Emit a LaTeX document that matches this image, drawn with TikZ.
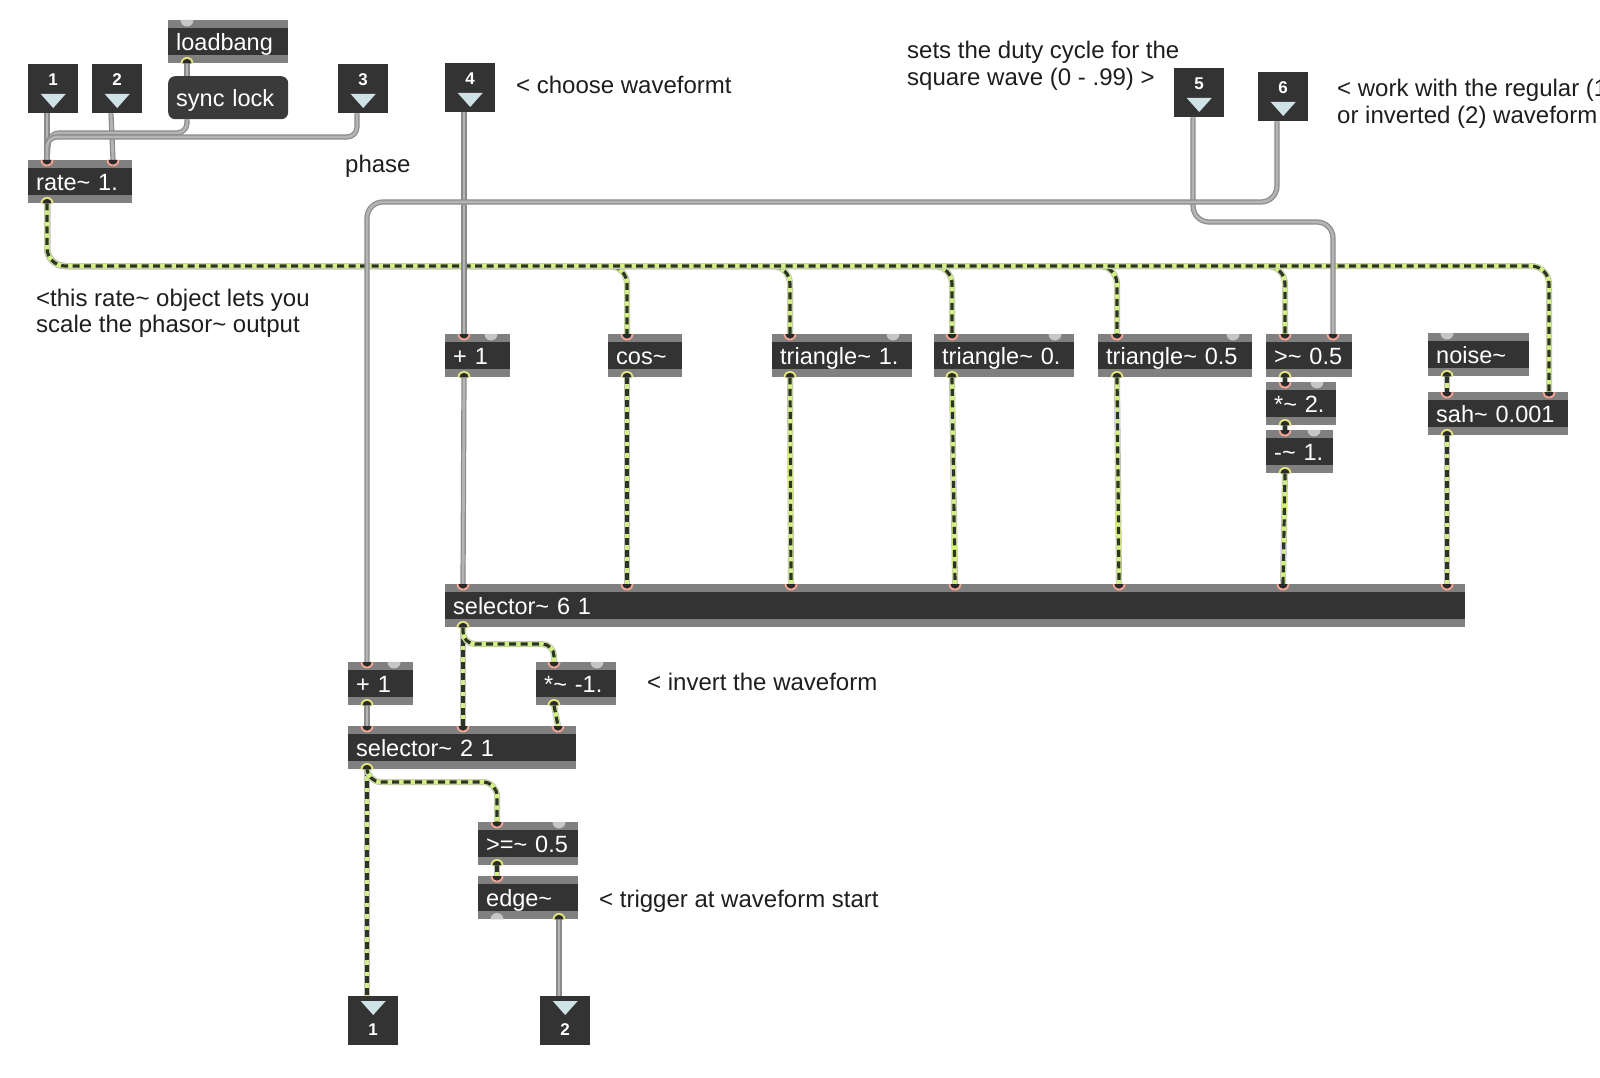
\documentclass[tikz,border=0pt]{standalone}
\usepackage{fontspec}
\setmainfont{Liberation Sans}
\usetikzlibrary{calc}

\definecolor{objgray}{HTML}{808080}
\definecolor{objdark}{HTML}{333333}
\definecolor{msgdark}{HTML}{3A3A3A}
\definecolor{inring}{HTML}{F2A592}
\definecolor{outring}{HTML}{E2E47A}
\definecolor{portdark}{HTML}{2A2A2A}
\definecolor{idleport}{HTML}{C6C6C6}
\definecolor{tricol}{HTML}{CFE2E5}
\definecolor{ctledge}{HTML}{8A8A8A}
\definecolor{ctlcore}{HTML}{B4B4B4}
\definecolor{sigedge}{HTML}{BDBDBD}
\definecolor{siggreen}{HTML}{D4F085}
\definecolor{sigdark}{HTML}{2C3427}
\definecolor{cmttext}{HTML}{1E1E1E}

\pgfdeclarelayer{bg}
\pgfdeclarelayer{cords}
\pgfsetlayers{bg,cords,main}

\tikzset{
  objbox/.style={fill=objgray, anchor=north west, minimum height=43pt, inner xsep=8pt, inner ysep=0pt,
    text=white, text height=19pt, text depth=2pt, align=left, font=\fontsize{23.5}{26}\selectfont,
    path picture={\fill[objdark] ($(path picture bounding box.north west)+(0,8)$) rectangle ($(path picture bounding box.south east)+(0,-8)$);}},
  msgbox/.style={objbox, fill=msgdark, rounded corners=7pt, path picture={}},
  iobox/.style={fill=objdark, anchor=north west, minimum width=50pt, minimum height=49pt, inner sep=0pt},
  ionum/.style={text=white, inner sep=0pt, font=\fontsize{17}{17}\selectfont\bfseries},
  cmt/.style={anchor=base west, inner sep=0pt, text=cmttext, align=left, font=\fontsize{24}{26.5}\selectfont},
  ctl/.style={draw=ctledge, line width=5.2pt, postaction={draw=ctlcore, line width=2.8pt}},
  sig/.style={draw=sigedge, line width=6pt, postaction={draw=siggreen, line width=4.6pt},
    postaction={draw=sigdark, line width=3.2pt, dash pattern=on 7pt off 4.5pt}},
}

\newcommand\tld{\textasciitilde}
% object box: name, x, y, width, text
\newcommand\obj[5]{\pgfmathsetmacro\tw{#4-16}\node[objbox, text width=\tw pt] (#1) at (#2,#3) {#5};}
\newcommand\maxmsg[5]{\pgfmathsetmacro\tw{#4-16}\node[msgbox, text width=\tw pt] (#1) at (#2,#3) {#5};}
% ports: node, offset, port name
\newcommand\inp[3]{\coordinate (#1-#3) at ($(#1.north west)+(#2,0)$);
  \fill[inring] (#1-#3) ++(6.5,0) arc (0:180:6.5) -- cycle;
  \fill[portdark] (#1-#3) ++(4.6,0) arc (0:180:4.6) -- cycle;}
\newcommand\outp[3]{\coordinate (#1-#3) at ($(#1.south west)+(#2,0)$);
  \fill[outring] (#1-#3) ++(6.5,0) arc (0:-180:6.5) -- cycle;
  \fill[portdark] (#1-#3) ++(4.6,0) arc (0:-180:4.6) -- cycle;}
\newcommand\idlein[2]{\fill[idleport] ($(#1.north west)+(#2,0)$) ++(6.5,0) arc (0:180:6.5) -- cycle;}
\newcommand\idleout[2]{\fill[idleport] ($(#1.south west)+(#2,0)$) ++(6.5,0) arc (0:-180:6.5) -- cycle;}
% patcher inlets and outlets: name, x, y, number
\newcommand\maxin[4]{\node[iobox] (#1) at (#2,#3) {};
  \node[ionum] (#1-n) at ($(#1.north)+(0,16)$) {#4};
  \fill[tricol] ($(#1.north)+(-12.5,30)$) -- ++(25,0) -- ++(-12.5,14) -- cycle;
  \coordinate (#1-o) at ($(#1.south west)+(19,0)$);}
\newcommand\maxout[4]{\node[iobox] (#1) at (#2,#3) {};
  \fill[tricol] ($(#1.north)+(-12.5,5)$) -- ++(25,0) -- ++(-12.5,14) -- cycle;
  \node[ionum] (#1-n) at ($(#1.north)+(0,34)$) {#4};
  \coordinate (#1-i) at ($(#1.north west)+(19,0)$);}

\begin{document}
\begin{tikzpicture}[x=1pt, y=-1pt]
\useasboundingbox (0,0) rectangle (1600,1078);
\begin{pgfonlayer}{bg}\fill[white] (0,0) rectangle (1600,1078);\end{pgfonlayer}

% inlets / outlets of the patcher
\maxin{in1}{28}{64}{1}
\maxin{in2}{92}{64}{2}
\maxin{in3}{338}{64}{3}
\maxin{in4}{445}{63}{4}
\maxin{in5}{1174}{68}{5}
\maxin{in6}{1258}{72}{6}
\maxout{out1}{348}{996}{1}
\maxout{out2}{540}{996}{2}

% objects
\obj{lb}{168}{20}{120}{loadbang}
\maxmsg{sync}{168}{76}{120}{sync lock}
\obj{rate}{28}{160}{104}{rate\tld{} 1.}
\obj{plus}{445}{334}{65}{+ 1}
\obj{cos}{608}{334}{74}{cos\tld}
\obj{triA}{772}{334}{140}{triangle\tld{} 1.}
\obj{triB}{934}{334}{140}{triangle\tld{} 0.}
\obj{triC}{1098}{334}{154}{triangle\tld{} 0.5}
\obj{gt}{1266}{334}{86}{>\tld{} 0.5}
\obj{mul}{1266}{382}{70}{*\tld{} 2.}
\obj{sub}{1266}{430}{67}{-\tld{} 1.}
\obj{noise}{1428}{333}{101}{noise\tld}
\obj{sah}{1428}{392}{140}{sah\tld{} 0.001}
\obj{sel6}{445}{584}{1020}{selector\tld{} 6 1}
\obj{plusB}{348}{662}{65}{+ 1}
\obj{neg}{536}{662}{80}{*\tld{} -1.}
\obj{sel2}{348}{726}{228}{selector\tld{} 2 1}
\obj{gte}{478}{822}{100}{>=\tld{} 0.5}
\obj{edge}{478}{876}{100}{edge\tld}

% ports
\idlein{lb}{19} \outp{lb}{19}{o1}
\inp{rate}{19}{i1} \inp{rate}{85}{i2} \outp{rate}{19}{o1}
\inp{plus}{19}{i1} \idlein{plus}{46} \outp{plus}{19}{o1}
\inp{cos}{19}{i1} \outp{cos}{19}{o1}
\foreach \n in {triA,triB} {\inp{\n}{18}{i1} \idlein{\n}{121} \outp{\n}{18}{o1}}
\inp{triC}{19}{i1} \idlein{triC}{135} \outp{triC}{19}{o1}
\inp{gt}{19}{i1} \inp{gt}{67}{i2} \outp{gt}{19}{o1}
\inp{mul}{19}{i1} \idlein{mul}{51} \outp{mul}{19}{o1}
\inp{sub}{19}{i1} \idlein{sub}{48} \outp{sub}{19}{o1}
\idlein{noise}{19} \outp{noise}{19}{o1}
\inp{sah}{19}{i1} \inp{sah}{121}{i2} \outp{sah}{19}{o1}
\foreach \k in {1,...,7} {\pgfmathsetmacro\dx{18+164*(\k-1)} \inp{sel6}{\dx}{i\k}}
\outp{sel6}{18}{o1}
\inp{plusB}{19}{i1} \idlein{plusB}{46} \outp{plusB}{19}{o1}
\inp{neg}{18}{i1} \idlein{neg}{61} \outp{neg}{18}{o1}
\inp{sel2}{19}{i1} \inp{sel2}{115}{i2} \inp{sel2}{210}{i3} \outp{sel2}{19}{o1}
\inp{gte}{19}{i1} \idlein{gte}{81} \outp{gte}{19}{o1}
\inp{edge}{19}{i1} \idleout{edge}{19} \outp{edge}{81}{o2}

% comments
\node[cmt] (duty) at (907,85.5) {sets the duty cycle for the\\square wave (0 - .99) >};
\node[cmt] (mode) at (1337,123.5) {< work with the regular (1\\or inverted (2) waveform};
\node[cmt] (wave) at (516,94) {< choose waveformt};
\node[cmt] (phase) at (345,173) {phase};
\node[cmt] (ratenote) at (36,332.5) {<this rate\tld{} object lets you\\scale the phasor\tld{} output};
\node[cmt] (invnote) at (647,690) {< invert the waveform};
\node[cmt] (trignote) at (599,907) {< trigger at waveform start};

\begin{pgfonlayer}{cords}
% signal cords
\coordinate (bus) at (0,266);
\foreach \p in {cos-i1,triA-i1,triB-i1,triC-i1,gt-i1,sah-i2}
  \draw[sig, rounded corners=18pt] (rate-o1) |- (\p |- bus) -- (\p);
\foreach \s/\k in {cos/2,triA/3,triB/4,triC/5}
  \draw[sig] (\s-o1) -- (sel6-i\k);
\draw[sig] (gt-o1) -- (mul-i1);
\draw[sig] (mul-o1) -- (sub-i1);
\draw[sig] (sub-o1) -- (sel6-i6);
\draw[sig] (noise-o1) -- (sah-i1);
\draw[sig] (sah-o1) -- (sel6-i7);
\draw[sig] (sel6-o1) -- (sel2-i2);
\draw[sig, rounded corners=12pt] (sel6-o1) |- ($(neg-i1)+(0,-18)$) -- (neg-i1);
\draw[sig] (neg-o1) -- (sel2-i3);
\draw[sig] (sel2-o1) -- (out1-i);
\draw[sig, rounded corners=14pt] (sel2-o1) |- ($(gte-i1)+(0,-40)$) -- (gte-i1);
\draw[sig] (gte-o1) -- (edge-i1);
% control cords
\draw[ctl] (lb-o1) -- (lb-o1 |- sync.north);
\draw[ctl] (in1-o) -- (rate-i1);
\draw[ctl] (in2-o) -- (rate-i2);
\draw[ctl, rounded corners=10pt] (lb-o1 |- sync.south) |- ($(rate-i1)+(2,-27)$) -- (rate-i1);
\draw[ctl, rounded corners=10pt] (in3-o) |- ($(rate-i1)+(0,-23)$) -- (rate-i1);
\draw[ctl] (in4-o) -- (plus-i1);
\draw[ctl] (plus-o1) -- (sel6-i1);
\draw[ctl, rounded corners=16pt] (in5-o) |- ($(gt-i2)+(0,-112)$) -- (gt-i2);
\draw[ctl, rounded corners=16pt] (in6-o) |- ($(plusB-i1)+(0,-460)$) -- (plusB-i1);
\draw[ctl] (plusB-o1) -- (sel2-i1);
\draw[ctl] (edge-o2) -- (out2-i);
\end{pgfonlayer}
\end{tikzpicture}
\end{document}
